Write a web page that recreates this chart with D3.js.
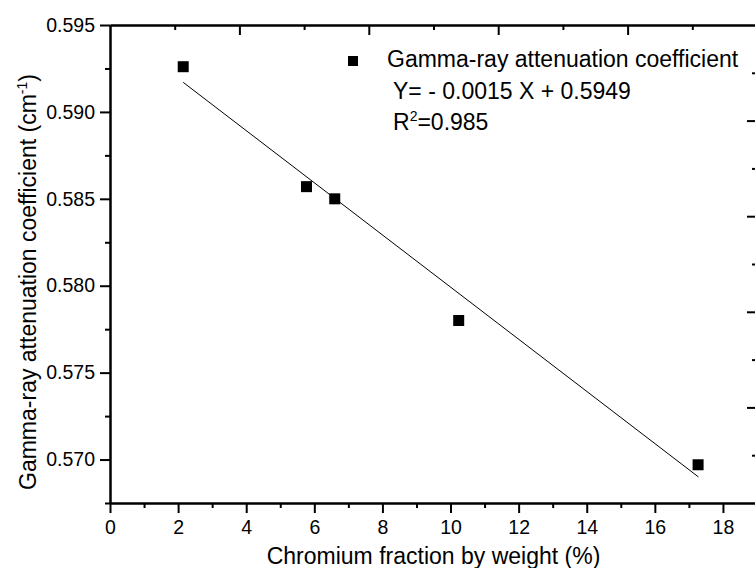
<!DOCTYPE html>
<html>
<head>
<meta charset="utf-8">
<script src="https://cdn.jsdelivr.net/npm/d3@7"></script>
<style>
  html, body { margin: 0; padding: 0; background: #fff; }
  svg { display: block; font-family: "Liberation Sans", Arial, sans-serif; }
</style>
</head>
<body>
<div id="chart"></div>
<script>
// --- Data ---
const chromiumPct = [2.15, 5.77, 6.6, 10.24, 17.27];
const attenuation = [0.5926, 0.5857, 0.5850, 0.5780, 0.5697];

// fitted line ends (Y = -0.0015 X + 0.5949)
const fitX = [2.15, 17.28];
const fitY = [0.5917, 0.5690];

const xMajor = [0, 2, 4, 6, 8, 10, 12, 14, 16, 18];
const xMinor = [1, 3, 5, 7, 9, 11, 13, 15, 17, 19];
const yMajor = [0.570, 0.575, 0.580, 0.585, 0.590, 0.595];
const yMinor = [0.5675, 0.5725, 0.5775, 0.5825, 0.5875, 0.5925];
// top and right frame axes are split in 10 equal parts
const frameMajor = [2, 4, 6, 8];
const frameMinor = [1, 3, 5, 7, 9];

const width = 755, height = 568;
const m = { top: 25, right: -2, bottom: 65, left: 110 };

const svg = d3.select("#chart").append("svg")
  .attr("width", width)
  .attr("height", height);

const x = d3.scaleLinear()
  .domain([0, 19])
  .range([m.left, width - m.right]);

const y = d3.scaleLinear()
  .domain([0.5675, 0.595])
  .range([height - m.bottom, m.top]);

const xFrame = d3.scaleLinear().domain([0, 10]).range(x.range());
const yFrame = d3.scaleLinear().domain([0, 10]).range(y.range());

const fmtY = d3.format(".3f");

function styleAxis(g, fontSize) {
  g.attr("font-family", null).attr("font-size", null);
  g.selectAll("path").attr("stroke", "#000").attr("stroke-width", 2);
  g.selectAll("line").attr("stroke", "#000").attr("stroke-width", 2);
  g.selectAll("text").attr("fill", "#000").attr("font-size", fontSize);
}

// ----- Bottom axis -----
const bottomY = height - m.bottom;
svg.append("g")
  .attr("transform", `translate(0,${bottomY})`)
  .call(d3.axisBottom(x).tickValues(xMinor).tickSize(5).tickFormat("").tickSizeOuter(0))
  .call(g => styleAxis(g, 19.5));
svg.append("g")
  .attr("transform", `translate(0,${bottomY})`)
  .call(d3.axisBottom(x).tickValues(xMajor).tickSize(10).tickPadding(7).tickSizeOuter(0))
  .call(g => styleAxis(g, 19.5));

// ----- Top axis (ticks inward) -----
svg.append("g")
  .attr("transform", `translate(0,${m.top})`)
  .call(d3.axisTop(xFrame).tickValues(frameMinor).tickSize(-5).tickFormat("").tickSizeOuter(0))
  .call(g => styleAxis(g, 0));
svg.append("g")
  .attr("transform", `translate(0,${m.top})`)
  .call(d3.axisTop(xFrame).tickValues(frameMajor).tickSize(-10).tickFormat("").tickSizeOuter(0))
  .call(g => styleAxis(g, 0));

// ----- Left axis -----
svg.append("g")
  .attr("transform", `translate(${m.left},0)`)
  .call(d3.axisLeft(y).tickValues(yMinor).tickSize(5).tickFormat("").tickSizeOuter(0))
  .call(g => styleAxis(g, 19.5));
svg.append("g")
  .attr("transform", `translate(${m.left},0)`)
  .call(d3.axisLeft(y).tickValues(yMajor).tickSize(10).tickPadding(5).tickFormat(fmtY).tickSizeOuter(0))
  .call(g => styleAxis(g, 19.5));

// ----- Right axis (ticks inward) -----
const rightX = width - m.right;
svg.append("g")
  .attr("transform", `translate(${rightX},0)`)
  .call(d3.axisRight(yFrame).tickValues(frameMinor).tickSize(-5).tickFormat("").tickSizeOuter(0))
  .call(g => styleAxis(g, 0));
svg.append("g")
  .attr("transform", `translate(${rightX},0)`)
  .call(d3.axisRight(yFrame).tickValues(frameMajor).tickSize(-10).tickFormat("").tickSizeOuter(0))
  .call(g => styleAxis(g, 0));

// ----- Axis titles -----
svg.append("text")
  .attr("x", (m.left + rightX) / 2)
  .attr("y", 564)
  .attr("text-anchor", "middle")
  .attr("font-size", 23)
  .attr("fill", "#000")
  .text("Chromium fraction by weight (%)");

const yTitle = svg.append("text")
  .attr("transform", "rotate(-90)")
  .attr("x", -282)
  .attr("y", 36)
  .attr("text-anchor", "middle")
  .attr("font-size", 23)
  .attr("fill", "#000");
yTitle.append("tspan").text("Gamma-ray attenuation coefficient (cm");
yTitle.append("tspan").attr("font-size", 14).attr("dy", -9).text("-1");
yTitle.append("tspan").attr("dy", 9).text(")");

// ----- Fit line -----
const fitPts = fitX.map((v, i) => [v, fitY[i]]);
svg.append("path")
  .datum(fitPts)
  .attr("fill", "none")
  .attr("stroke", "#000")
  .attr("stroke-width", 1)
  .attr("d", d3.line().x(d => x(d[0])).y(d => y(d[1])));

// ----- Points -----
const sq = 11;
const pts = chromiumPct.map((v, i) => ({ x: v, y: attenuation[i] }));
svg.append("g")
  .selectAll("rect")
  .data(pts)
  .enter()
  .append("rect")
  .attr("x", d => x(d.x) - sq / 2)
  .attr("y", d => y(d.y) - sq / 2)
  .attr("width", sq)
  .attr("height", sq)
  .attr("fill", "#000");

// ----- Legend + equation -----
svg.append("rect")
  .attr("x", 348).attr("y", 56)
  .attr("width", 10).attr("height", 10)
  .attr("fill", "#000");

svg.append("text")
  .attr("x", 387).attr("y", 67)
  .attr("font-size", 23)
  .attr("fill", "#000")
  .text("Gamma-ray attenuation coefficient");

svg.append("text")
  .attr("x", 393).attr("y", 99)
  .attr("font-size", 23)
  .attr("fill", "#000")
  .text("Y= - 0.0015 X + 0.5949");

const r2 = svg.append("text")
  .attr("x", 393).attr("y", 130)
  .attr("font-size", 23)
  .attr("fill", "#000");
r2.append("tspan").text("R");
r2.append("tspan").attr("font-size", 14).attr("dy", -9).text("2");
r2.append("tspan").attr("dy", 9).text("=0.985");
</script>
</body>
</html>
